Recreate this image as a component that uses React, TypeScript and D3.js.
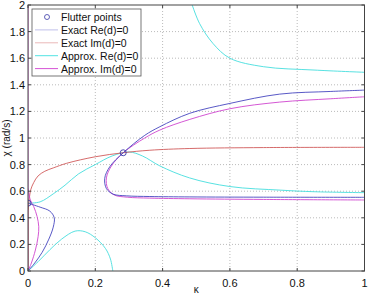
import React from "react";
import * as d3 from "d3";

type Pt = [number, number];

// Axis ticks
const xTicks = [0, 0.2, 0.4, 0.6, 0.8, 1];
const yTicks = [0, 0.2, 0.4, 0.6, 0.8, 1, 1.2, 1.4, 1.6, 1.8, 2];

// Flutter points (κ, χ)
const flutterPoints: Pt[] = [
  [0.283, 0.889],
  [0, 0.51],
];

// Exact Re(d)=0 branches
const exactReUpper: Pt[] = [
  [1.0, 1.36], [0.9, 1.35], [0.748, 1.33], [0.6, 1.26], [0.481, 1.186],
  [0.392, 1.085], [0.347, 1.02], [0.283, 0.889], [0.243, 0.784],
  [0.228, 0.697], [0.233, 0.62], [0.253, 0.578], [0.293, 0.565],
  [0.362, 0.56], [0.481, 0.557], [0.7, 0.555], [1.0, 0.554],
];
const exactReLower: Pt[] = [
  [0, 0.51], [0.036, 0.48], [0.065, 0.45], [0.078, 0.4], [0.075, 0.33],
  [0.062, 0.24], [0.042, 0.14], [0.02, 0.06], [0, 0],
];

// Exact Im(d)=0 branches
const exactImAxis: Pt[] = [[0, 0], [0, 0.5]];
const exactImCurve: Pt[] = [
  [0, 0.46], [0.002, 0.5], [0.004, 0.547], [0.008, 0.61], [0.017, 0.665],
  [0.03, 0.715], [0.05, 0.75], [0.075, 0.775], [0.115, 0.81], [0.2, 0.859],
  [0.283, 0.889], [0.362, 0.908], [0.481, 0.921], [0.7, 0.928], [1.0, 0.93],
];

// Approximate Re(d)=0 branches
const approxReLow: Pt[] = [
  [0, 0], [0.03, 0.07], [0.065, 0.16], [0.1, 0.24], [0.14, 0.3],
  [0.17, 0.295], [0.2, 0.25], [0.23, 0.17], [0.245, 0.09], [0.252, 0],
];
const approxReMid: Pt[] = [
  [0, 0.51], [0.036, 0.52], [0.075, 0.58], [0.11, 0.645], [0.15, 0.73],
  [0.2, 0.8], [0.25, 0.865], [0.3, 0.895], [0.34, 0.865], [0.392, 0.79],
  [0.48, 0.7], [0.6, 0.635], [0.75, 0.608], [0.85, 0.596], [1.0, 0.589],
];
const approxReTop: Pt[] = [
  [0.488, 2.0], [0.51, 1.86], [0.55, 1.71], [0.6, 1.6], [0.7, 1.536],
  [0.85, 1.511], [1.0, 1.494],
];

// Approximate Im(d)=0 branches
const approxImAxis: Pt[] = [[0, 0], [0, 2]];
const approxImUpper: Pt[] = [
  [1.0, 1.31], [0.9, 1.295], [0.748, 1.27], [0.6, 1.22], [0.481, 1.14],
  [0.392, 1.06], [0.347, 1.0], [0.283, 0.889], [0.248, 0.79],
  [0.233, 0.7], [0.237, 0.62], [0.256, 0.572], [0.295, 0.555],
  [0.362, 0.548], [0.481, 0.543], [0.7, 0.538], [1.0, 0.534],
];
const approxImLower: Pt[] = [
  [0, 0.62], [0.007, 0.534], [0.017, 0.484], [0.027, 0.41], [0.032, 0.333],
  [0.03, 0.258], [0.022, 0.158], [0.01, 0.06], [0, 0],
];

const legendItems = [
  { label: "Flutter points", kind: "marker", color: "#3a3aa8" },
  { label: "Exact Re(d)=0", kind: "line", color: "#b8b8e8" },
  { label: "Exact Im(d)=0", kind: "line", color: "#e8b0b0" },
  { label: "Approx. Re(d)=0", kind: "line", color: "#40e0e0" },
  { label: "Approx. Im(d)=0", kind: "line", color: "#d040d0" },
];

const BLUE = "#4646c0";
const RED = "#d05a5a";
const CYAN = "#45dede";
const MAGENTA = "#cf45cf";

const W = 371;
const H = 294;
const M = { left: 28, right: 364.5, top: 5, bottom: 271 };
const FONT = "'Liberation Sans', Arial, sans-serif";

export default function App() {
  const x = d3.scaleLinear().domain([0, 1]).range([M.left, M.right]);
  const y = d3.scaleLinear().domain([0, 2]).range([M.bottom, M.top]);
  const line = d3
    .line<Pt>()
    .x((d) => x(d[0]))
    .y((d) => y(d[1]))
    .curve(d3.curveCatmullRom.alpha(0.5));
  const straight = d3
    .line<Pt>()
    .x((d) => x(d[0]))
    .y((d) => y(d[1]));

  const series: { data: Pt[]; color: string; curved: boolean }[] = [
    { data: approxImAxis, color: MAGENTA, curved: false },
    { data: exactImAxis, color: RED, curved: false },
    { data: approxReLow, color: CYAN, curved: true },
    { data: approxReMid, color: CYAN, curved: true },
    { data: approxReTop, color: CYAN, curved: true },
    { data: exactImCurve, color: RED, curved: true },
    { data: approxImLower, color: MAGENTA, curved: true },
    { data: approxImUpper, color: MAGENTA, curved: true },
    { data: exactReLower, color: BLUE, curved: true },
    { data: exactReUpper, color: BLUE, curved: true },
  ];

  const lx = 32;
  const ly = 9;
  const lw = 109;
  const lh = 67;

  return (
    <svg
      width={W}
      height={H}
      style={{ position: "absolute", left: 0, top: 0, background: "#fff" }}
      fontFamily={FONT}
    >
      <defs>
        <clipPath id="plotClip">
          <rect x={M.left} y={M.top} width={M.right - M.left} height={M.bottom - M.top} />
        </clipPath>
      </defs>
      <rect x={M.left} y={M.top} width={M.right - M.left} height={M.bottom - M.top} fill="#fff" />
      {/* grid */}
      {xTicks.slice(1, -1).map((t) => (
        <line key={"gx" + t} x1={x(t)} x2={x(t)} y1={M.top} y2={M.bottom}
          stroke="#a8a8a8" strokeWidth={0.8} strokeDasharray="1,2" />
      ))}
      {yTicks.slice(1, -1).map((t) => (
        <line key={"gy" + t} x1={M.left} x2={M.right} y1={y(t)} y2={y(t)}
          stroke="#a8a8a8" strokeWidth={0.8} strokeDasharray="1,2" />
      ))}
      {/* curves */}
      <g clipPath="url(#plotClip)" fill="none" strokeWidth={0.9}>
        {series.map((s, i) => (
          <path key={i} d={(s.curved ? line : straight)(s.data) || ""} stroke={s.color} />
        ))}
        {flutterPoints.map((p, i) => (
          <circle key={"fp" + i} cx={x(p[0])} cy={y(p[1])} r={3} fill="none"
            stroke="#3a3aa8" strokeWidth={0.9} />
        ))}
      </g>
      {/* frame */}
      <rect x={M.left} y={M.top} width={M.right - M.left} height={M.bottom - M.top}
        fill="none" stroke="#444" strokeWidth={1} />
      {/* ticks */}
      {xTicks.map((t) => (
        <g key={"tx" + t}>
          <line x1={x(t)} x2={x(t)} y1={M.bottom} y2={M.bottom - 3} stroke="#444" />
          <line x1={x(t)} x2={x(t)} y1={M.top} y2={M.top + 3} stroke="#444" />
          <text x={x(t)} y={287} textAnchor="middle" fontSize={11} fill="#111">{String(t)}</text>
        </g>
      ))}
      {yTicks.map((t) => (
        <g key={"ty" + t}>
          <line x1={M.left} x2={M.left + 3} y1={y(t)} y2={y(t)} stroke="#444" />
          <line x1={M.right} x2={M.right - 3} y1={y(t)} y2={y(t)} stroke="#444" />
          <text x={25} y={y(t) + 4} textAnchor="end" fontSize={11} fill="#111">{String(t)}</text>
        </g>
      ))}
      {/* axis labels */}
      <text x={(M.left + M.right) / 2} y={293} textAnchor="middle" fontSize={10} fill="#111">κ</text>
      <text transform={`translate(10,${(M.top + M.bottom) / 2}) rotate(-90)`} textAnchor="middle"
        fontSize={10} fill="#111">χ (rad/s)</text>
      {/* legend */}
      <rect x={lx} y={ly} width={lw} height={lh} fill="#fff" stroke="#555" strokeWidth={0.8} />
      {legendItems.map((it, i) => {
        const cy = ly + 8 + i * 12.9;
        return (
          <g key={"lg" + i}>
            {it.kind === "marker" ? (
              <circle cx={47} cy={cy} r={2.5} fill="none" stroke={it.color} strokeWidth={0.8} />
            ) : (
              <line x1={35} x2={58} y1={cy} y2={cy} stroke={it.color} strokeWidth={0.9} />
            )}
            <text x={61} y={cy + 4} fontSize={10.5} fill="#111">{it.label}</text>
          </g>
        );
      })}
    </svg>
  );
}
